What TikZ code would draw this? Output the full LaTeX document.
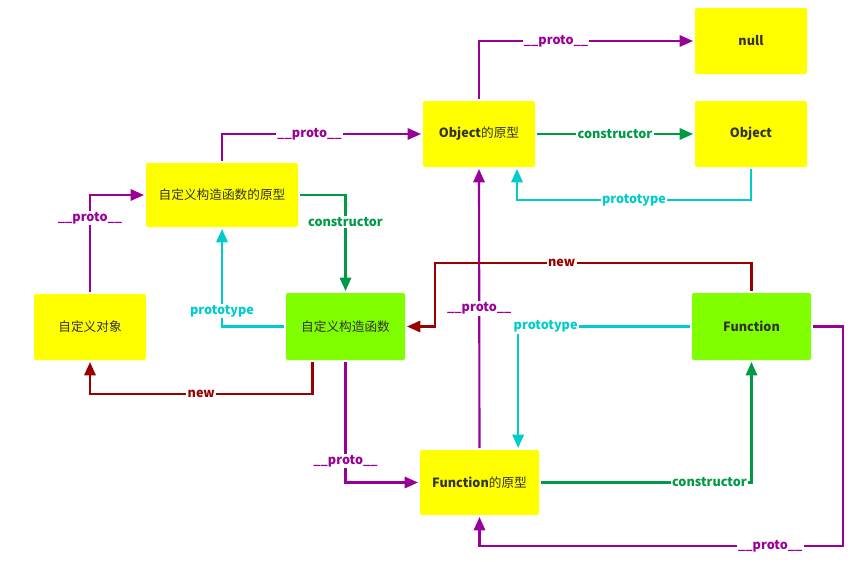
\documentclass[tikz,border=0pt]{standalone}
\usepackage{fontspec}
\setmainfont{Noto Sans CJK SC}
\usetikzlibrary{arrows.meta}

\definecolor{protoc}{HTML}{990099}
\definecolor{ctorc}{HTML}{009944}
\definecolor{protyc}{HTML}{00CCCC}
\definecolor{newc}{HTML}{990000}
\definecolor{boxy}{HTML}{FFFF00}
\definecolor{boxg}{HTML}{80FF00}
\definecolor{txt}{HTML}{333333}

\tikzset{
    box/.style={fill=boxy, rounded corners=1.5pt, text=txt, outer sep=1.5pt,
        minimum width=84pt, minimum height=49.5pt, font=\fontsize{9.5}{11}\selectfont},
    fbox/.style={box, fill=boxg, minimum width=89.25pt, minimum height=50.25pt},
    link/.style={line width=1.6pt, -{Triangle[length=10pt,width=8.5pt]}},
    lbl/.style={fill=white, inner sep=1pt, font=\fontsize{9.5}{11}\selectfont\bfseries},
    protolink/.style={link, protoc},
    ctorlink/.style={link, ctorc},
    protylink/.style={link, protyc},
    newlink/.style={link, newc}
}

\begin{document}
\begin{tikzpicture}[x=0.75pt, y=-0.75pt]
    \useasboundingbox (0,0) rectangle (868,561);

    % boxes
    \node[box] (null) at (751,41) {\bfseries null};
    \node[box] (objproto) at (479,134) {{\bfseries Object}的原型};
    \node[box] (obj) at (751,134) {\bfseries Object};
    \node[box, minimum width=114pt, minimum height=48pt] (ctorproto) at (222,195) {自定义构造函数的原型};
    \node[box] (inst) at (90,327) {自定义对象};
    \node[fbox] (ctor) at (345.5,326.5) {自定义构造函数};
    \node[fbox] (func) at (751.5,326.5) {\bfseries Function};
    \node[fbox, fill=boxy, minimum height=48.75pt] (funcproto) at (479.5,482.5) {{\bfseries Function}的原型};

    \coordinate (newbend) at (435,263);
    \coordinate (fpbend) at (843,546);

    % Object side
    \draw[protolink] (objproto.north) |- node[lbl, text=protoc, pos=0.68] {\_\_proto\_\_} (null.west);
    \draw[ctorlink] (objproto.east) -- node[lbl, text=ctorc] {constructor} (obj.west);
    \draw[protylink] (obj.south) -- ++(0,31) -| node[lbl, text=protyc, pos=0.25] {prototype} ([xshift=28.5pt]objproto.south);

    % custom constructor
    \draw[protolink] (ctorproto.north) |- node[lbl, text=protoc, pos=0.72] {\_\_proto\_\_} (objproto.west);
    \draw[protolink] (inst.north) |- node[lbl, text=protoc, pos=0.38] {\_\_proto\_\_} (ctorproto.west);
    \draw[ctorlink] (ctorproto.east) -| node[lbl, text=ctorc, pos=0.64] {constructor} (ctor.north);
    \draw[protylink] (ctor.west) -| node[lbl, text=protyc, pos=0.58] {prototype} (ctorproto.south);
    \draw[newlink] ([xshift=-24.75pt]ctor.south) -- ++(0,32) -| node[lbl, text=newc, pos=0.25] {new} (inst.south);
    \draw[protolink] (ctor.south) |- node[lbl, text=protoc, pos=0.41] {\_\_proto\_\_} (funcproto.west);

    % Function
    \draw[protolink] (funcproto.north) -- node[lbl, text=protoc] {\_\_proto\_\_} (objproto.south);
    \draw[newlink] (func.north) |- node[lbl, text=newc, pos=0.8] {new} (newbend) |- (ctor.east);
    \draw[protylink] (func.west) -| node[lbl, text=protyc, pos=0.42] {prototype} ([xshift=29pt]funcproto.north);
    \draw[ctorlink] (funcproto.east) -| node[lbl, text=ctorc, pos=0.4] {constructor} (func.south);
    \draw[protolink] (func.east) -| (fpbend) -| node[lbl, text=protoc, pos=0.1] {\_\_proto\_\_} (funcproto.south);
\end{tikzpicture}
\end{document}
